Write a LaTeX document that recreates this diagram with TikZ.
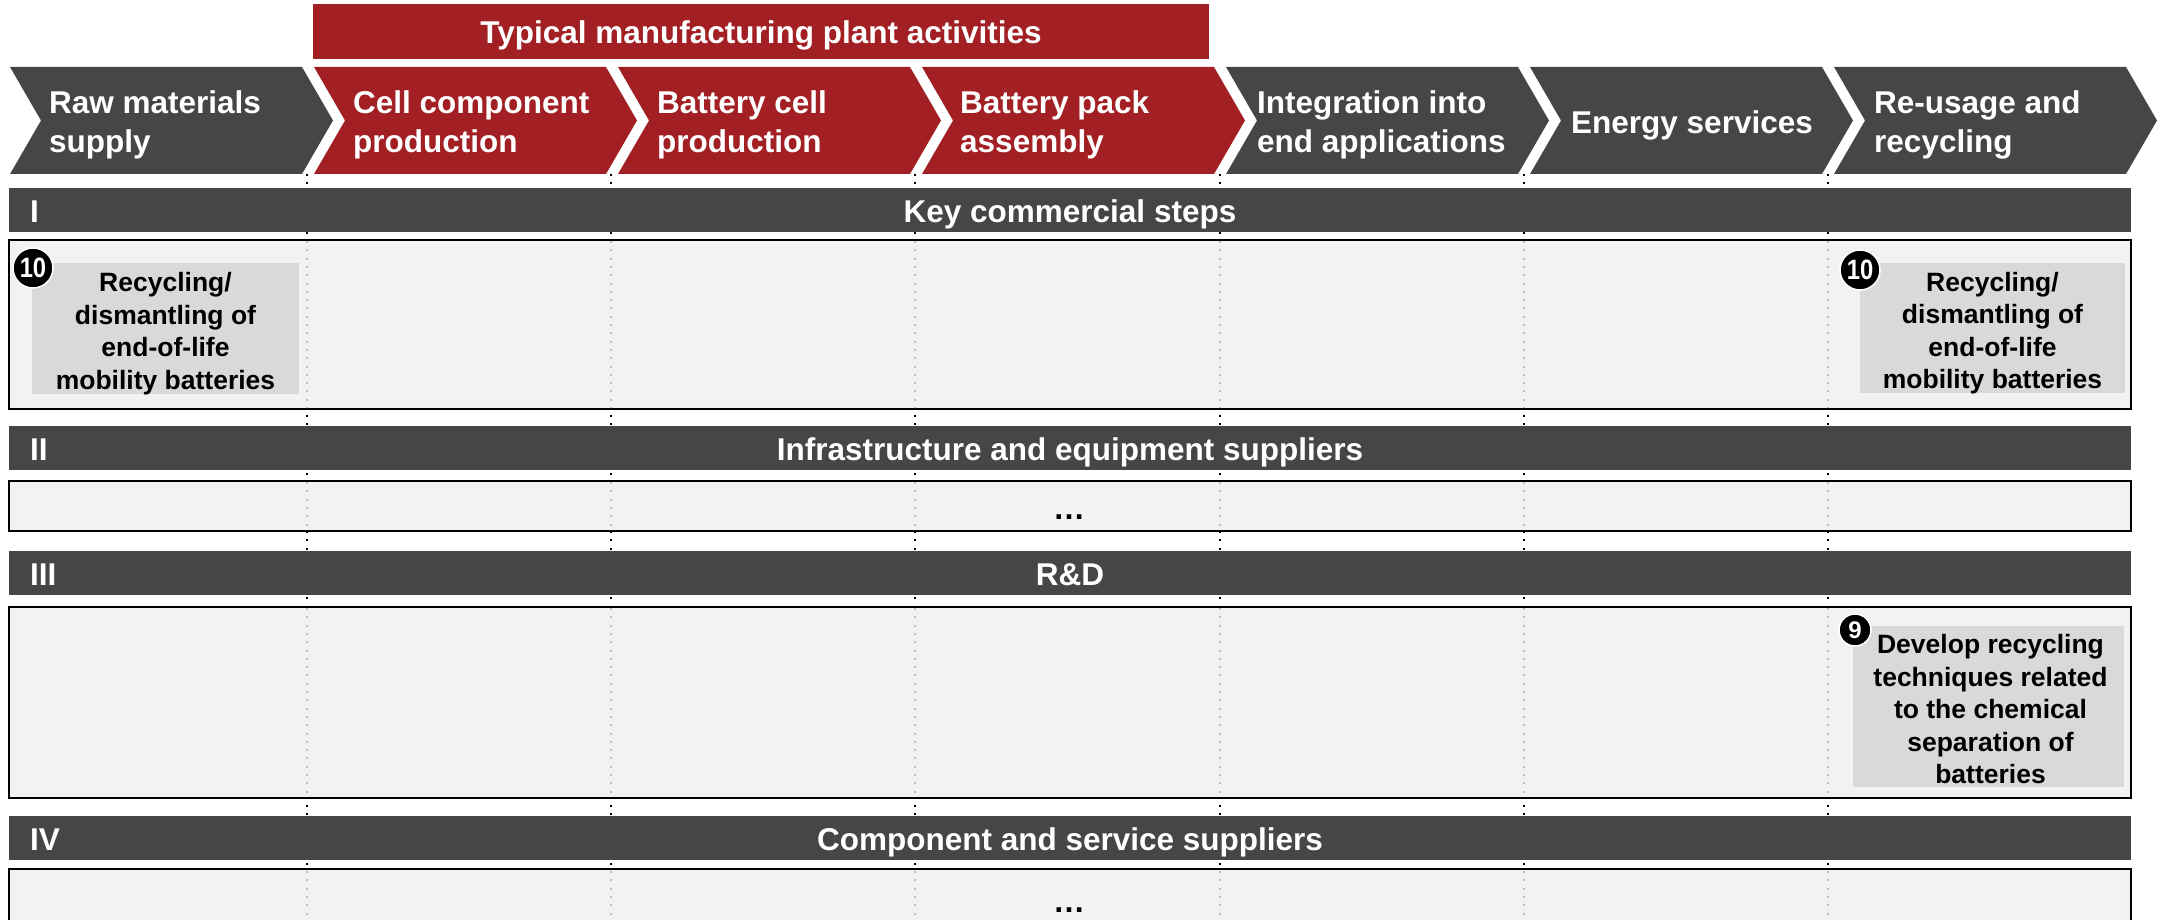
\documentclass[tikz,border=0pt]{standalone}
\usepackage{fontspec}
\setmainfont{Liberation Sans}

\definecolor{bargray}{RGB}{70,70,70}
\definecolor{plantred}{RGB}{162,31,35}
\definecolor{rowfill}{RGB}{242,242,242}
\definecolor{itemfill}{RGB}{217,217,217}
\definecolor{dotgray}{RGB}{190,190,190}

\begin{document}
\begin{tikzpicture}[x=1pt,y=-1pt,
            chev/.style={fill=bargray},
            redchev/.style={fill=plantred},
            steptxt/.style={anchor=west,align=left,text=white,inner sep=0pt,
              font=\fontsize{31.5}{38.5}\selectfont\bfseries},
            bar/.style={fill=bargray,text=white,inner sep=0pt,minimum width=2122pt,
              minimum height=44pt,text height=32pt,text depth=7.6pt,
              font=\fontsize{31.5}{37}\selectfont\bfseries},
            roman/.style={anchor=west,text=white,inner sep=0pt,text height=32pt,text depth=7.6pt,
              font=\fontsize{31.5}{37}\selectfont\bfseries},
            row/.style={fill=rowfill,draw=black,line width=1.5pt,inner sep=0pt,minimum width=2122pt},
            item/.style={fill=itemfill,inner sep=0pt},
            itemtxt/.style={align=center,inner sep=0pt,font=\fontsize{26.5}{32.5}\selectfont\bfseries},
            badge/.style={circle,fill=black,draw=white,line width=1.5pt,text=white,inner sep=0pt},
            col/.style={dash pattern=on 2pt off 6.3pt,line width=2pt},
            dots/.style={anchor=base,inner sep=0pt,font=\fontsize{32}{32}\selectfont\bfseries}]

            \clip (0,0) rectangle (2161,920);

            % banner over the plant steps
            \node[fill=plantred,text=white,inner sep=0pt,minimum width=896pt,minimum height=55pt,
              text height=32pt,text depth=7.6pt,
              font=\fontsize{31.5}{37}\selectfont\bfseries] (plant) at (761,31.5)
              {Typical manufacturing plant activities};

            % the value chain, seven chevrons
            \fill[chev]    (10,67) -- (302,67) -- (333,120.5) -- (302,174) -- (10,174) -- (41,120.5) -- cycle;
            \fill[redchev] (314,67) -- (606,67) -- (637,120.5) -- (606,174) -- (314,174) -- (345,120.5) -- cycle;
            \fill[redchev] (618,67) -- (910,67) -- (941,120.5) -- (910,174) -- (618,174) -- (649,120.5) -- cycle;
            \fill[redchev] (922,67) -- (1214,67) -- (1245,120.5) -- (1214,174) -- (922,174) -- (953,120.5) -- cycle;
            \fill[chev]    (1226,67) -- (1518,67) -- (1549,120.5) -- (1518,174) -- (1226,174) -- (1257,120.5) -- cycle;
            \fill[chev]    (1530,67) -- (1822,67) -- (1853,120.5) -- (1822,174) -- (1530,174) -- (1561,120.5) -- cycle;
            \fill[chev]    (1834,67) -- (2126,67) -- (2157,120.5) -- (2126,174) -- (1834,174) -- (1865,120.5) -- cycle;
            \node[steptxt] (raw)  at (49,125)   {Raw materials\\supply};
            \node[steptxt] (comp) at (353,125)  {Cell component\\production};
            \node[steptxt] (cell) at (657,125)  {Battery cell\\production};
            \node[steptxt] (pack) at (960,125)  {Battery pack\\assembly};
            \node[steptxt] (intg) at (1257,125) {Integration into\\end applications};
            \node[steptxt] (enrg) at (1571,125) {Energy services};
            \node[steptxt] (reus) at (1874,125) {Re-usage and\\recycling};

            % column separators
            \draw[col] (307,174)--(307,920) (611,174)--(611,920) (915,174)--(915,920)
            (1220,174)--(1220,920) (1524,174)--(1524,920) (1828,174)--(1828,920);

            % the four rows
            \node[bar] (barI)   at (1070,210) {Key commercial steps};
            \node[bar] (barII)  at (1070,448) {Infrastructure and equipment suppliers};
            \node[bar] (barIII) at (1070,573) {R\&D};
            \node[bar] (barIV)  at (1070,838) {Component and service suppliers};
            \node[roman] (nI)   at (30,210) {I};
            \node[roman] (nII)  at (30,448) {II};
            \node[roman] (nIII) at (30,573) {III};
            \node[roman] (nIV)  at (30,838) {IV};

            \node[row,minimum height=169pt] (rowI)   at (1070,324.5) {};
            \node[row,minimum height=50pt]  (rowII)  at (1070,506)   {};
            \node[row,minimum height=191pt] (rowIII) at (1070,702.5) {};
            \node[row,minimum height=70pt]  (rowIV)  at (1070,904)   {};

            \draw[col,dotgray] (307,241)--(307,408) (611,241)--(611,408) (915,241)--(915,408)
            (1220,241)--(1220,408) (1524,241)--(1524,408) (1828,241)--(1828,408);
            \draw[col,dotgray] (307,482)--(307,530) (611,482)--(611,530) (915,482)--(915,530)
            (1220,482)--(1220,530) (1524,482)--(1524,530) (1828,482)--(1828,530);
            \draw[col,dotgray] (307,608)--(307,797) (611,608)--(611,797) (915,608)--(915,797)
            (1220,608)--(1220,797) (1524,608)--(1524,797) (1828,608)--(1828,797);
            \draw[col,dotgray] (307,871)--(307,920) (611,871)--(611,920) (915,871)--(915,920)
            (1220,871)--(1220,920) (1524,871)--(1524,920) (1828,871)--(1828,920);

            \node[dots] (moreII) at (1069,519) {…};
            \node[dots] (moreIV) at (1069,912) {…};

            % items with their numbers
            \node[item,minimum width=267pt,minimum height=131pt] (recL) at (165.5,328.5) {};
            \node[item,minimum width=265pt,minimum height=130pt] (recR) at (1992.5,328) {};
            \node[item,minimum width=271pt,minimum height=161pt] (chem) at (1988.5,706.5) {};
            \node[itemtxt] (recLtxt) at ([yshift=-5pt]recL.center)
              {Recycling/\\dismantling of\\end-of-life\\mobility batteries};
            \node[itemtxt] (recRtxt) at ([yshift=-5pt]recR.center)
              {Recycling/\\dismantling of\\end-of-life\\mobility batteries};
            \node[itemtxt] (chemtxt) at ([xshift=2pt,yshift=-3pt]chem.center)
              {Develop recycling\\techniques related\\to the chemical\\separation of\\batteries};
            \node[badge,minimum size=40pt,font=\fontsize{28}{28}\selectfont\bfseries] (b10L) at (33,268)
              {\scalebox{0.85}[1]{10}};
            \node[badge,minimum size=40pt,font=\fontsize{28}{28}\selectfont\bfseries] (b10R) at (1860,270)
              {\scalebox{0.85}[1]{10}};
            \node[badge,minimum size=32pt,font=\fontsize{24}{24}\selectfont\bfseries] (b9) at (1855,630)
              {9};
        \end{tikzpicture}
\end{document}
